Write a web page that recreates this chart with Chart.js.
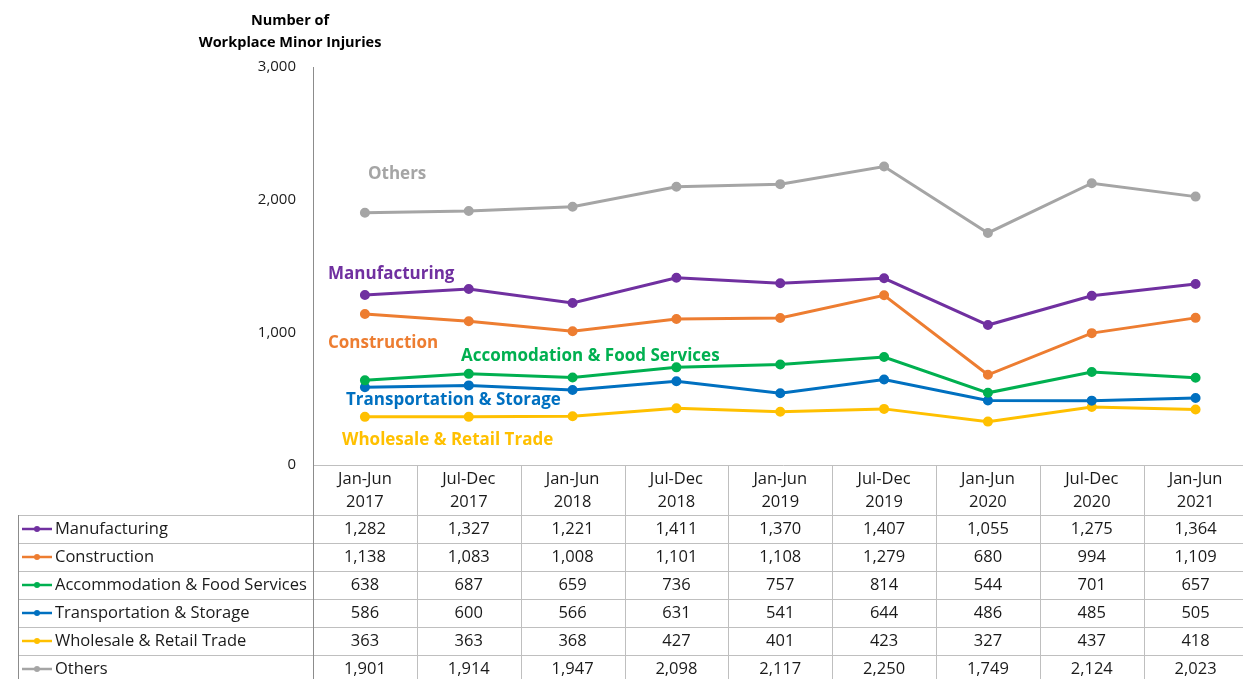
<!DOCTYPE html>
<html>
<head>
<meta charset="utf-8">
<title>Workplace Minor Injuries</title>
<script src="https://cdn.jsdelivr.net/npm/chart.js@4.4.1/dist/chart.umd.min.js"></script>
<style>
    html, body { margin: 0; padding: 0; background: #fff; overflow: hidden; }
    #wrap { position: relative; width: 1254px; height: 684px; }
</style>
</head>
<body>
<div id="wrap"><canvas id="chartMain"></canvas></div>
<script>
// ========== DATA ==========
const periods = ['Jan-Jun 2017', 'Jul-Dec 2017', 'Jan-Jun 2018', 'Jul-Dec 2018', 'Jan-Jun 2019',
                 'Jul-Dec 2019', 'Jan-Jun 2020', 'Jul-Dec 2020', 'Jan-Jun 2021'];
const yTicks = [0, 1000, 2000, 3000];

const seriesNames = ['Manufacturing', 'Construction', 'Accommodation & Food Services',
                     'Transportation & Storage', 'Wholesale & Retail Trade', 'Others'];
const manufacturing  = [1282, 1327, 1221, 1411, 1370, 1407, 1055, 1275, 1364];
const construction   = [1138, 1083, 1008, 1101, 1108, 1279, 680, 994, 1109];
const accommodation  = [638, 687, 659, 736, 757, 814, 544, 701, 657];
const transportation = [586, 600, 566, 631, 541, 644, 486, 485, 505];
const wholesale      = [363, 363, 368, 427, 401, 423, 327, 437, 418];
const others         = [1901, 1914, 1947, 2098, 2117, 2250, 1749, 2124, 2023];

const seriesColors = ['#7030A0', '#ED7D31', '#00B050', '#0070C0', '#FFC000', '#A5A5A5'];
const FONT = '"Open Sans", "DejaVu Sans", sans-serif';

// labels written next to the lines inside the plot
const inlineLabels = [
    { text: 'Others', color: '#A5A5A5', x: 368, y: 174 },
    { text: 'Manufacturing', color: '#7030A0', x: 328, y: 274 },
    { text: 'Construction', color: '#ED7D31', x: 328, y: 343 },
    { text: 'Accomodation & Food Services', color: '#00B050', x: 461, y: 356 },
    { text: 'Transportation & Storage', color: '#0070C0', x: 346, y: 400 },
    { text: 'Wholesale & Retail Trade', color: '#FFC000', x: 342, y: 440 }
];

const fmt = v => v.toLocaleString('en-US');

// ========== TABLE + TEXT PLUGIN ==========
const tablePlugin = {
    id: 'dataTable',
    afterDraw(chart) {
        const ctx = chart.ctx;
        const xs = chart.scales.x;
        const area = chart.chartArea;
        const colW = xs.getPixelForValue(1) - xs.getPixelForValue(0);
        const top = area.bottom;
        const headerH = 50;
        const rowH = 28;
        const leftX = 18;
        const rightX = chart.width;
        const allSeries = chart.data.datasets;

        ctx.save();

        // axis title
        ctx.fillStyle = '#000';
        ctx.font = 'bold 14.5px ' + FONT;
        ctx.textAlign = 'center';
        ctx.textBaseline = 'middle';
        ctx.fillText('Number of', 290, 21);
        ctx.fillText('Workplace Minor Injuries', 290, 43);

        // inline series labels
        ctx.font = 'bold 17px ' + FONT;
        ctx.textAlign = 'left';
        inlineLabels.forEach(l => {
            ctx.fillStyle = l.color;
            ctx.fillText(l.text, l.x, l.y);
        });

        // grid lines
        ctx.lineWidth = 1;
        ctx.strokeStyle = '#BFBFBF';
        ctx.beginPath();
        ctx.moveTo(area.left, top + 0.5);
        ctx.lineTo(rightX, top + 0.5);
        for (let r = 0; r <= allSeries.length; r++) {
            const y = Math.round(top + headerH + r * rowH) + 0.5;
            ctx.moveTo(leftX, y);
            ctx.lineTo(rightX, y);
        }
        for (let i = 1; i <= periods.length; i++) {
            const x = Math.round(area.left + i * colW) + 0.5;
            ctx.moveTo(x, top);
            ctx.lineTo(x, top + headerH + allSeries.length * rowH);
        }
        ctx.stroke();

        ctx.strokeStyle = '#8C8C8C';
        ctx.beginPath();
        ctx.moveTo(Math.round(area.left) + 0.5, top);
        ctx.lineTo(Math.round(area.left) + 0.5, top + headerH + allSeries.length * rowH);
        ctx.moveTo(leftX + 0.5, top + headerH);
        ctx.lineTo(leftX + 0.5, top + headerH + allSeries.length * rowH);
        ctx.stroke();

        // header
        ctx.fillStyle = '#1a1a1a';
        ctx.font = '16.5px ' + FONT;
        ctx.textAlign = 'center';
        periods.forEach((p, i) => {
            const cx = xs.getPixelForValue(i);
            const parts = p.split(' ');
            ctx.fillText(parts[0], cx, top + 14);
            ctx.fillText(parts[1], cx, top + 37);
        });

        // rows
        allSeries.forEach((ds, r) => {
            const cy = top + headerH + r * rowH + rowH / 2;
            // legend key
            ctx.strokeStyle = ds.borderColor;
            ctx.lineWidth = 2.5;
            ctx.beginPath();
            ctx.moveTo(22, cy);
            ctx.lineTo(52, cy);
            ctx.stroke();
            ctx.fillStyle = ds.borderColor;
            ctx.beginPath();
            ctx.arc(37, cy, 3, 0, Math.PI * 2);
            ctx.fill();

            ctx.fillStyle = '#1a1a1a';
            ctx.textAlign = 'left';
            ctx.fillText(ds.label, 55, cy);
            ctx.textAlign = 'center';
            ds.data.forEach((v, i) => {
                ctx.fillText(fmt(v), xs.getPixelForValue(i), cy);
            });
        });

        ctx.restore();
    }
};

// ========== CHART ==========
const values = [manufacturing, construction, accommodation, transportation, wholesale, others];
const datasets = seriesNames.map((name, i) => ({
    label: name,
    data: values[i],
    borderColor: seriesColors[i],
    backgroundColor: seriesColors[i],
    borderWidth: 3,
    pointRadius: 3.5,
    pointHoverRadius: 3.5,
    tension: 0
}));

new Chart(document.getElementById('chartMain').getContext('2d'), {
    type: 'line',
    data: { labels: periods, datasets: datasets },
    options: {
        responsive: true,
        maintainAspectRatio: false,
        animation: false,
        layout: { padding: { top: 67, left: 0, right: 0, bottom: 0 } },
        plugins: {
            legend: { display: false },
            tooltip: { enabled: false }
        },
        scales: {
            x: {
                offset: true,
                grid: { display: false, drawTicks: false },
                border: { display: false },
                ticks: { display: false },
                afterFit(scale) { scale.height = 219; }
            },
            y: {
                min: 0,
                max: 3000,
                grid: { display: false, drawTicks: false },
                border: { display: true, color: '#8C8C8C', width: 1 },
                afterBuildTicks(scale) { scale.ticks = yTicks.map(v => ({ value: v })); },
                ticks: {
                    padding: 17,
                    color: '#1a1a1a',
                    font: { family: FONT, size: 15 },
                    callback: v => fmt(v)
                },
                afterFit(scale) { scale.width = 313; }
            }
        }
    },
    plugins: [tablePlugin]
});
</script>
</body>
</html>
